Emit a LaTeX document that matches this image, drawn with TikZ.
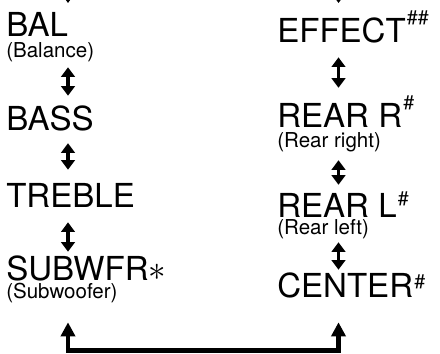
\documentclass[tikz,border=0pt]{standalone}
\usepackage{fontspec}
\setmainfont{TeX Gyre Heros}
\usepackage{tikz}
\usetikzlibrary{arrows.meta, positioning}

% raised hash marks after a label
\newcommand{\hashmark}[2]{\kern0.8pt\raisebox{#1}{\fontsize{14}{14}\selectfont #2}}

\tikzset{
    lbl/.style={anchor=base west, inner sep=0pt, text height=16.9pt, text depth=0pt,
        font=\fontsize{23.5}{23.5}\selectfont},
    sublbl/.style={anchor=base west, inner sep=0pt, text height=10.5pt, text depth=3pt,
        font=\fontsize{14.6}{14.6}\selectfont},
    updown/.style={{Triangle[length=6.8pt,width=9.6pt]}-{Triangle[length=6.8pt,width=9.6pt]},
        line width=2.8pt},
    loopline/.style={{Triangle[length=10pt,width=10pt]}-{Triangle[length=10pt,width=10pt]},
        line width=3.5pt, line join=miter},
    intip/.style={-{Triangle[length=6.8pt,width=9.6pt]}, line width=2.8pt}
}

\begin{document}
\begin{tikzpicture}[x=0.025cm, y=-0.025cm]
    \useasboundingbox (0,0) rectangle (440,354);
    \clip (0,0) rectangle (440,354);

    % arrow columns
    \coordinate (colL) at (68,0);
    \coordinate (colR) at (338.5,0);
    \coordinate (bot) at (200,350.5);

    % Left column
    \node[lbl] (bal) at (6,37) {BAL};
    \node[sublbl] (balsub) at (6,58) {(Balance)};
    \node[lbl] (bass) at (6,131) {BASS};
    \node[lbl] (treble) at (6,207) {TREBLE};
    \node[lbl] (subwfr) at (6,280) {SUBWFR$\ast$};
    \node[sublbl] (subsub) at (6,298) {(Subwoofer)};

    % Right column
    \node[lbl] (effect) at (277,43) {EFFECT\hashmark{12.8pt}{\#\#}};
    \node[lbl] (rearr) at (277,128) {REAR R\hashmark{12.8pt}{\#}};
    \node[sublbl] (rearrsub) at (277,148) {(Rear right)};
    \node[lbl] (rearl) at (277,217) {REAR L\hashmark{8.5pt}{\#}};
    \node[sublbl] (rearlsub) at (277,234) {(Rear left)};
    \node[lbl] (center) at (277,297) {CENTER\hashmark{5.7pt}{\#}};

    % Incoming tips from above
    \coordinate (inL) at (68,3);
    \coordinate (inR) at (338.5,3);
    \draw[intip] (68,-25) -- (inL);
    \draw[intip] (338.5,-25) -- (inR);

    % Double arrows, left
    \draw[updown, shorten <=3.4pt, shorten >=8pt] (balsub.south -| colL) -- (bass.north -| colL);
    \draw[updown, shorten <=8.5pt, shorten >=9.4pt] (bass.south -| colL) -- (treble.north -| colL);
    \draw[updown, shorten <=10.7pt, shorten >=3pt] (treble.south -| colL) -- (subwfr.north -| colL);

    % Double arrows, right
    \draw[updown, shorten <=10pt, shorten >=11.5pt] (effect.south -| colR) -- (rearr.north -| colR);
    \draw[updown, shorten <=5.5pt, shorten >=5.8pt] (rearrsub.south -| colR) -- (rearl.north -| colR);
    \draw[updown, shorten <=2.7pt, shorten >=2.3pt] (rearlsub.south -| colR) -- (center.north -| colR);

    % Return loop
    \draw[loopline, shorten <=14.1pt, shorten >=17.8pt]
        (subsub.south -| colL) |- (bot) -| (center.south -| colR);
\end{tikzpicture}
\end{document}
